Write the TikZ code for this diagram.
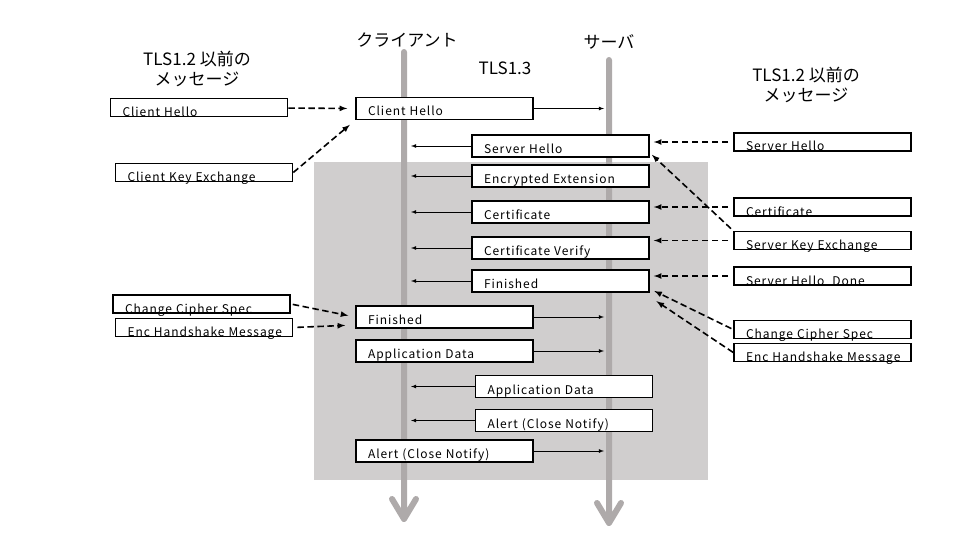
\documentclass[tikz,border=0pt]{standalone}
\usepackage{fontspec}
\setmainfont{Noto Sans CJK JP}
\newfontfamily\msgfont[LetterSpace=8]{Noto Sans CJK JP}
\usepackage{tikz}
\usetikzlibrary{arrows}
\definecolor{bggray}{RGB}{208,206,206}
\definecolor{linegray}{RGB}{174,170,170}
\tikzstyle{msg} = [font=\msgfont\fontsize{12}{14}\selectfont, rectangle, draw=black, line width=1.6pt, fill=white, text width=153pt, inner xsep=12pt, inner ysep=1.5pt, text height=17pt, text depth=2pt, align=left]
\tikzstyle{oldmsg} = [msg, inner ysep=0pt, text height=18pt, text depth=0pt]
\tikzstyle{title} = [font=\fontsize{17}{20}\selectfont, align=center]
\tikzstyle{lifeline} = [line width=6pt, draw=linegray, line cap=round, line join=round]
\tikzstyle{arrow} = [line width=0.8pt,->,>=latex]
\tikzstyle{dasharrow} = [line width=1.6pt,->,>=latex, dash pattern=on 6.5pt off 3.5pt]
\begin{document}
\begin{tikzpicture}[x=1pt, y=-1pt, node distance=34pt]
  \useasboundingbox (0,0) rectangle (960,540);
  \fill[bggray] (314,162) rectangle (708,480);
  % lifelines
  \coordinate (cli_top) at (404,52);
  \coordinate (cli_end) at (404,519);
  \coordinate (srv_top) at (609,60);
  \coordinate (srv_end) at (609,523);
  \coordinate (cli_in) at (411,0);
  \coordinate (srv_in) at (604,0);
  \draw[lifeline] (cli_top) -- (cli_end) -- ++(-12,-20) (cli_end) -- ++(12,-20);
  \draw[lifeline] (srv_top) -- (srv_end) -- ++(-12,-20) (srv_end) -- ++(12,-20);
  % titles
  \node (cli_title) [title] at (407,40) {クライアント};
  \node (srv_title) [title] at (609,42) {サーバ};
  \node (tls13) [title] at (505,68) {TLS1.3};
  \node (left_title) [title] at (197,69) {TLS1.2 以前の\\メッセージ};
  \node (right_title) [title] at (806,85) {TLS1.2 以前の\\メッセージ};
  % TLS1.3
  \node (c_hello) [msg] at (444.5,108.5) {Client Hello};
  \node (s_hello) [msg] at (560.5,146) {Server Hello};
  \node (s_ee) [msg, below of=s_hello, yshift=4pt] {Encrypted Extension};
  \node (s_cert) [msg, below of=s_ee, yshift=-2pt] {Certificate};
  \node (s_cv) [msg, below of=s_cert, yshift=-2pt] {Certificate Verify};
  \node (s_fin) [msg, below of=s_cv, yshift=1pt] {Finished};
  \node (c_fin) [msg] at (444.5,317) {Finished};
  \node (c_data) [msg, below of=c_fin] {Application Data};
  \node (s_data) [msg] at (564,386.5) {Application Data};
  \node (s_alert) [msg, below of=s_data] {Alert (Close Notify)};
  \node (c_alert) [msg] at (444.5,451) {Alert (Close Notify)};
  % TLS1.2
  \node (old_ch) [oldmsg] at (199,107.5) {Client Hello};
  \node (old_cke) [oldmsg] at (204,172.5) {Client Key Exchange};
  \node (old_ccs) [oldmsg] at (201.5,304) {Change Cipher Spec};
  \node (old_ehm) [oldmsg] at (204,327.5) {Enc Handshake Message};
  \node (old_sh) [oldmsg] at (822.5,142) {Server Hello};
  \node (old_cert) [oldmsg] at (822.5,207) {Certificate};
  \node (old_ske) [oldmsg] at (822.5,240.5) {Server Key Exchange};
  \node (old_shd) [oldmsg] at (822.5,276) {Server Hello\ \ Done};
  \node (old_ccs2) [oldmsg] at (822.5,329.5) {Change Cipher Spec};
  \node (old_ehm2) [oldmsg] at (822.5,352.5) {Enc Handshake Message};
  \draw[arrow](c_hello) -- (c_hello -| srv_in);
  \draw[arrow](s_hello) -- (s_hello -| cli_in);
  \draw[arrow](s_ee) -- (s_ee -| cli_in);
  \draw[arrow](s_cert) -- (s_cert -| cli_in);
  \draw[arrow](s_cv) -- (s_cv -| cli_in);
  \draw[arrow](s_fin) -- (s_fin -| cli_in);
  \draw[arrow](c_fin) -- (c_fin -| srv_in);
  \draw[arrow](c_data) -- (c_data -| srv_in);
  \draw[arrow](s_data) -- (s_data -| cli_in);
  \draw[arrow](s_alert) -- (s_alert -| cli_in);
  \draw[arrow](c_alert) -- (c_alert -| srv_in);
  \draw[dasharrow, shorten >=8pt](old_ch) -- (c_hello.west);
  \draw[dasharrow, shorten >=7pt](old_cke.east) -- (c_hello.south west);
  \draw[dasharrow, shorten >=7pt, shorten <=2pt](old_ccs.east) -- (c_fin.west);
  \draw[dasharrow, shorten >=10pt, shorten <=4pt](old_ehm.east) -- ([yshift=-8pt]c_fin.west);
  \draw[dasharrow, shorten >=4pt, shorten <=5pt](old_sh.west) -- (old_sh.west -| s_hello.east);
  \draw[dasharrow, shorten >=3pt, shorten <=3pt](old_ske.north west) -- ([yshift=5pt]s_hello.south east);
  \draw[dasharrow, shorten >=4pt, shorten <=5pt](old_cert.west) -- (old_cert.west -| s_cert.east);
  \draw[dasharrow, shorten >=4pt, shorten <=5pt](old_ske.west) -- (old_ske.west -| s_cv.east);
  \draw[dasharrow, shorten >=4pt, shorten <=5pt](old_shd.west) -- (old_shd.west -| s_fin.east);
  \draw[dasharrow, shorten >=5pt, shorten <=2pt](old_ccs2.west) -- ([yshift=4pt]s_fin.south east);
  \draw[dasharrow, shorten >=8pt](old_ehm2.west) -- ([yshift=-4pt]s_fin.south east);
\end{tikzpicture}
\end{document}
